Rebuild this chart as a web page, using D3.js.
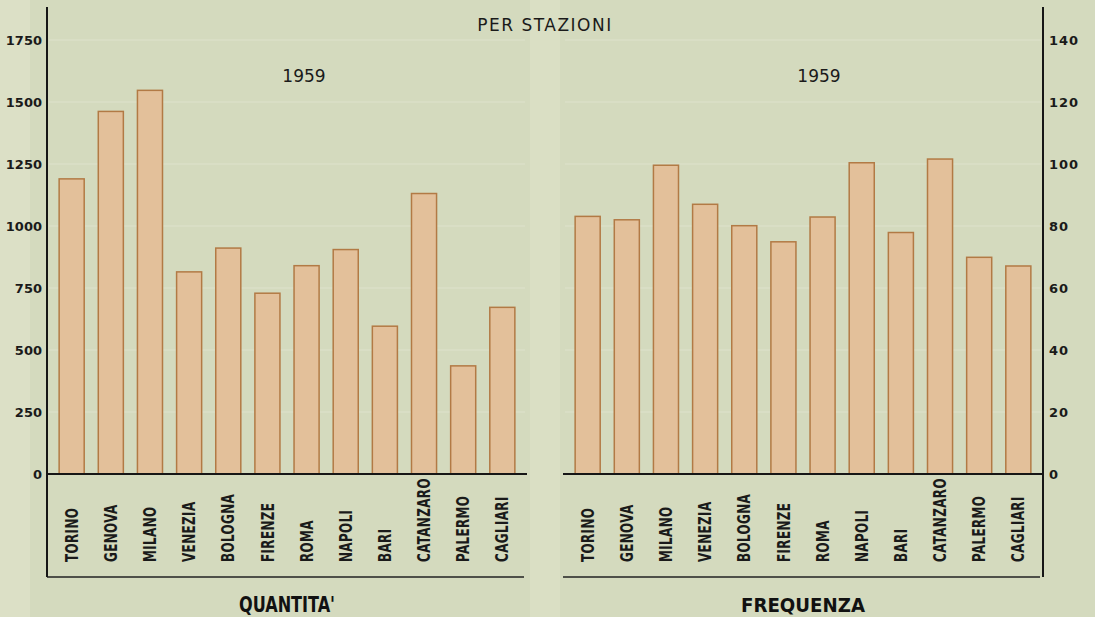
<!DOCTYPE html>
<html>
<head>
<meta charset="utf-8">
<script src="https://cdn.jsdelivr.net/npm/d3@7"></script>
<style>
  body { margin: 0; background: #d4dabe; }
  svg { display: block; }
  .tick text { fill: #1a1a1a; }
</style>
</head>
<body>
<div id="chart"></div>
<script>
var svgWidth = 1095;
var svgHeight = 617;

// data
var stations = ["TORINO", "GENOVA", "MILANO", "VENEZIA", "BOLOGNA", "FIRENZE",
  "ROMA", "NAPOLI", "BARI", "CATANZARO", "PALERMO", "CAGLIARI"];
var quantita = [1190, 1462, 1547, 815, 911, 729, 840, 905, 596, 1131, 436, 672];
var frequenza = [83.1, 82.0, 99.6, 87.0, 80.1, 74.9, 82.9, 100.4, 77.9, 101.6, 69.9, 67.1];
var quantitaTicks = [0, 250, 500, 750, 1000, 1250, 1500, 1750];
var frequenzaTicks = [0, 20, 40, 60, 80, 100, 120, 140];

var baseY = 474;
var topY = 40;
var axisTop = 7;
var boxBottom = 577;

var svg = d3.select("#chart").append("svg")
  .attr("width", svgWidth)
  .attr("height", svgHeight);

// paper
svg.append("rect").attr("width", svgWidth).attr("height", svgHeight).attr("fill", "#d4dabe");
svg.append("rect").attr("x", 0).attr("width", 30).attr("height", svgHeight).attr("fill", "#dce0c6");
svg.append("rect").attr("x", 530).attr("width", 30).attr("height", svgHeight).attr("fill", "#dadfc4");

var yLeft = d3.scaleLinear().domain([0, 1750]).range([baseY, topY]);
var yRight = d3.scaleLinear().domain([0, 140]).range([baseY, topY]);

var xLeft = d3.scaleBand().domain(stations).range([47, 527]).paddingInner(0.36).paddingOuter(0.31);
var xRight = d3.scaleBand().domain(stations).range([563, 1043]).paddingInner(0.36).paddingOuter(0.31);

var narrowFont = "'DejaVu Sans Condensed', 'DejaVu Sans', sans-serif";

function drawPanel(x, y, values, ticks) {
  var g = svg.append("g");
  var x0 = x.range()[0], x1 = x.range()[1];

  // faint light lines on the paper at tick levels
  g.selectAll(".grid")
    .data(ticks.slice(1))
    .enter()
    .append("line")
    .attr("x1", x0 + 2)
    .attr("x2", x1 - 2)
    .attr("y1", d => y(d))
    .attr("y2", d => y(d))
    .attr("stroke", "#e0e4cf")
    .attr("stroke-width", 2)
    .attr("opacity", 0.45);

  g.selectAll(".bar")
    .data(values)
    .enter()
    .append("rect")
    .attr("x", (d, i) => x(stations[i]))
    .attr("y", d => y(d))
    .attr("width", x.bandwidth())
    .attr("height", d => baseY - y(d))
    .attr("fill", "#e3c09a")
    .attr("stroke", "#b27a45")
    .attr("stroke-width", 1.5);

  // baseline and bottom of label box
  g.append("line")
    .attr("x1", x0).attr("x2", x1)
    .attr("y1", baseY).attr("y2", baseY)
    .attr("stroke", "#161616").attr("stroke-width", 2);
  g.append("line")
    .attr("x1", x0).attr("x2", x1 - 3)
    .attr("y1", boxBottom).attr("y2", boxBottom)
    .attr("stroke", "#222").attr("stroke-width", 1.5);

  // station names, squeezed along the text like the condensed lettering
  var catAxis = d3.axisBottom(x).tickSize(0).tickPadding(0);
  var ax = g.append("g")
    .attr("transform", `translate(0, ${baseY})`)
    .call(catAxis);
  ax.select(".domain").remove();
  ax.selectAll("text")
    .attr("transform", "translate(0, 88) rotate(-90) scale(0.78, 1)")
    .attr("y", 0)
    .attr("dy", "0.36em")
    .attr("text-anchor", "start")
    .style("font-family", narrowFont)
    .style("font-weight", "bold")
    .style("font-size", "17px")
    .style("letter-spacing", "0.5px");
  return g;
}

drawPanel(xLeft, yLeft, quantita, quantitaTicks);
drawPanel(xRight, yRight, frequenza, frequenzaTicks);

// left value axis
var leftAxis = d3.axisLeft(yLeft).tickValues(quantitaTicks).tickFormat(d3.format("d"))
  .tickSize(0).tickPadding(5);
var la = svg.append("g").attr("transform", "translate(47, 0)").call(leftAxis);
la.select(".domain").remove();
la.selectAll("text")
  .style("font-family", "'DejaVu Sans', sans-serif")
  .style("font-weight", "bold")
  .style("font-size", "13px");
svg.append("line")
  .attr("x1", 47).attr("x2", 47)
  .attr("y1", axisTop).attr("y2", boxBottom)
  .attr("stroke", "#161616").attr("stroke-width", 2);

// right value axis
var rightAxis = d3.axisRight(yRight).tickValues(frequenzaTicks).tickFormat(d3.format("d"))
  .tickSize(0).tickPadding(6);
var ra = svg.append("g").attr("transform", "translate(1043, 0)").call(rightAxis);
ra.select(".domain").remove();
ra.selectAll("text")
  .style("font-family", "'DejaVu Sans', sans-serif")
  .style("font-weight", "bold")
  .style("font-size", "13px")
  .style("letter-spacing", "1px");
svg.append("line")
  .attr("x1", 1043).attr("x2", 1043)
  .attr("y1", axisTop).attr("y2", boxBottom)
  .attr("stroke", "#161616").attr("stroke-width", 2);

// titles
svg.append("text")
  .attr("x", 545).attr("y", 31)
  .attr("text-anchor", "middle")
  .style("font-family", "'DejaVu Sans', sans-serif")
  .style("font-size", "17px")
  .style("letter-spacing", "1.5px")
  .attr("fill", "#1a1a1a")
  .text("PER STAZIONI");

svg.append("text")
  .attr("x", 304).attr("y", 82)
  .attr("text-anchor", "middle")
  .style("font-family", "'DejaVu Sans', sans-serif")
  .style("font-size", "17px")
  .attr("fill", "#1a1a1a")
  .text("1959");

svg.append("text")
  .attr("x", 819).attr("y", 82)
  .attr("text-anchor", "middle")
  .style("font-family", "'DejaVu Sans', sans-serif")
  .style("font-size", "17px")
  .attr("fill", "#1a1a1a")
  .text("1959");

svg.append("text")
  .attr("x", 239).attr("y", 612)
  .attr("textLength", 96)
  .attr("lengthAdjust", "spacingAndGlyphs")
  .style("font-family", narrowFont)
  .style("font-weight", "bold")
  .style("font-size", "21px")
  .attr("fill", "#111")
  .text("QUANTITA'");

svg.append("text")
  .attr("x", 741).attr("y", 612)
  .attr("textLength", 124)
  .attr("lengthAdjust", "spacingAndGlyphs")
  .style("font-family", narrowFont)
  .style("font-weight", "bold")
  .style("font-size", "20px")
  .attr("fill", "#111")
  .text("FREQUENZA");
</script>
</body>
</html>
